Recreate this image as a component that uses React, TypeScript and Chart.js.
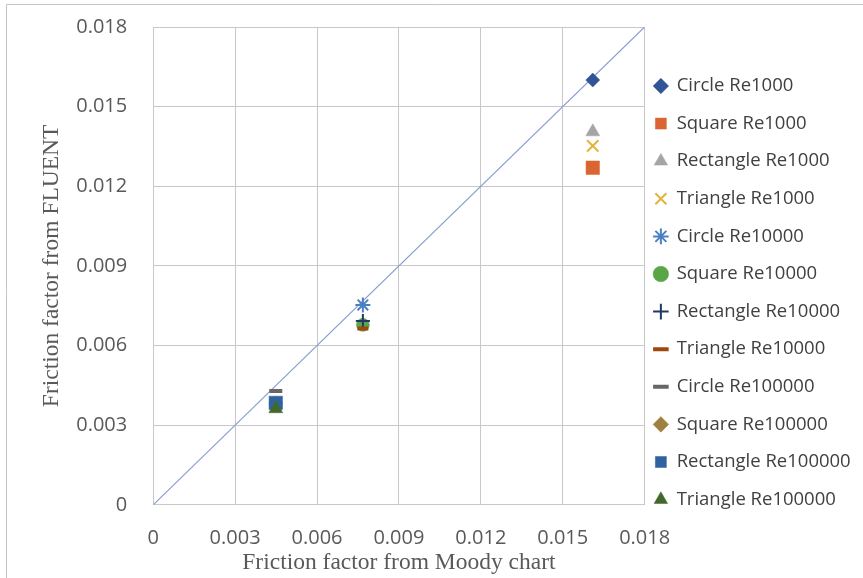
import { useEffect, useRef } from 'react';
import { Chart, registerables } from 'chart.js';

Chart.register(...registerables);

// Series shown in the legend, one per duct shape and Reynolds number
const seriesNames = [
  'Circle Re1000',
  'Square Re1000',
  'Rectangle Re1000',
  'Triangle Re1000',
  'Circle Re10000',
  'Square Re10000',
  'Rectangle Re10000',
  'Triangle Re10000',
  'Circle Re100000',
  'Square Re100000',
  'Rectangle Re100000',
  'Triangle Re100000',
];

// Friction factor (x) and computed by FLUENT (y)
const moodyFactor = [
  0.0161, 0.0161, 0.0161, 0.0161,
  0.00768, 0.00768, 0.00768, 0.00768,
  0.00449, 0.00449, 0.00449, 0.00449,
];
const fluentFactor = [
  0.016, 0.0127, 0.01405, 0.01352,
  0.00753, 0.00678, 0.00692, 0.00664,
  0.00429, 0.00383, 0.00384, 0.00362,
];

// Marker look of each series
const markerStyles = [
  'rectRot', 'rect', 'triangle', 'crossRot',
  'star', 'circle', 'cross', 'line',
  'line', 'rectRot', 'rect', 'triangle',
];
const markerRadii = [7, 9.5, 8, 8, 7.5, 6.5, 7, 5.5, 6.5, 7, 9.5, 8];
const markerColors = [
  '#2F5597', '#DA6530', '#A5A5A5', '#E3B33C',
  '#4A80C2', '#5AA545', '#1F3864', '#9E480E',
  '#666666', '#A08040', '#2E62A0', '#43682B',
];

// Line of perfect agreement
const agreementLine = [0, 0.018];

const xTickLabels = ['0', '0.003', '0.006', '0.009', '0.012', '0.015', '0.018'];
const yTickLabels = ['0', '0.003', '0.006', '0.009', '0.012', '0.015', '0.018'];

const xTitle = 'Friction factor from Moody chart';
const yTitle = 'Friction factor from FLUENT';

const strokeOnly = new Set(['crossRot', 'star', 'cross', 'line']);
const gridColor = '#c8c8c8';

const framePlugin = {
  id: 'pageFrame',
  beforeDraw(chart: Chart) {
    const { ctx, width, height } = chart;
    ctx.save();
    ctx.fillStyle = '#ffffff';
    ctx.fillRect(0, 0, width, height);
    ctx.strokeStyle = '#c4c4c4';
    ctx.lineWidth = 1;
    ctx.beginPath();
    ctx.moveTo(6.5, height);
    ctx.lineTo(6.5, 4.5);
    ctx.lineTo(width, 4.5);
    ctx.stroke();
    ctx.restore();
  },
};

export default function App() {
  const canvasRef = useRef<HTMLCanvasElement | null>(null);

  useEffect(() => {
    if (!canvasRef.current) return;

    const pointSets = seriesNames.map((name, i) => {
      const style = markerStyles[i];
      const lineLike = strokeOnly.has(style);
      return {
        label: name,
        data: [{ x: moodyFactor[i], y: fluentFactor[i] }],
        pointStyle: style,
        pointRadius: markerRadii[i],
        pointHoverRadius: markerRadii[i],
        backgroundColor: markerColors[i],
        borderColor: markerColors[i],
        borderWidth: style === 'line' ? 4 : lineLike ? 2 : 0.5,
        order: 20 - i,
      };
    });

    const diagonal = {
      label: 'agreement',
      data: agreementLine.map((v) => ({ x: v, y: v })),
      showLine: true,
      pointRadius: 0,
      borderColor: '#8A9ED2',
      backgroundColor: '#8A9ED2',
      borderWidth: 1.2,
      order: 100,
    };

    const xTickFont = { family: 'Open Sans', size: 20 };
    // single-line labels: a tight line height keeps the top overflow small
    const yTickFont = { family: 'Open Sans', size: 20, lineHeight: 0.1 };
    const titleFont = { family: 'Liberation Serif', size: 23.5 };

    const chart = new Chart(canvasRef.current, {
      type: 'scatter',
      data: { datasets: [...pointSets, diagonal] as any },
      plugins: [framePlugin],
      options: {
        animation: false,
        responsive: false,
        layout: { padding: { left: 0, top: 16, right: 3.5, bottom: 0 } },
        plugins: {
          tooltip: { enabled: false },
          legend: {
            position: 'right',
            align: 'start',
            title: {
              display: true,
              text: '',
              font: { size: 10, lineHeight: 1 },
              padding: { top: 41, bottom: 0 },
            },
            labels: {
              usePointStyle: true,
              boxWidth: 13,
              boxHeight: 11,
              padding: 9.75,
              color: '#404040',
              font: { family: 'Open Sans', size: 18.5, lineHeight: 27.85 / 18.5 },
              generateLabels: (c: Chart) =>
                Chart.defaults.plugins.legend.labels
                  .generateLabels(c)
                  .map((item: any) => ({ ...item, text: [item.text] })),
              filter: (item: any) => item.datasetIndex < seriesNames.length,
              sort: (a: any, b: any) => a.datasetIndex - b.datasetIndex,
            },
          },
        },
        scales: {
          x: {
            type: 'linear',
            min: 0,
            max: 0.018,
            grid: { color: gridColor, drawTicks: false },
            border: { color: gridColor },
            ticks: {
              stepSize: 0.003,
              padding: 21,
              color: '#595959',
              font: xTickFont,
              maxRotation: 0,
              callback: (_v: any, i: number) => xTickLabels[i],
            },
            title: {
              display: true,
              text: xTitle,
              color: '#595959',
              font: titleFont,
              padding: { top: -22, bottom: 1 },
            },
          },
          y: {
            type: 'linear',
            min: 0,
            max: 0.018,
            grid: { color: gridColor, drawTicks: false },
            border: { color: gridColor },
            ticks: {
              stepSize: 0.003,
              padding: 26,
              color: '#595959',
              font: yTickFont,
              callback: (_v: any, i: number) => yTickLabels[i],
            },
            title: {
              display: true,
              text: yTitle,
              color: '#595959',
              font: titleFont,
              padding: { top: 38, bottom: -16 },
            },
          },
        },
      } as any,
    });

    return () => chart.destroy();
  }, []);

  return (
    <div style={{ position: 'fixed', left: 0, top: 0, width: 863, height: 578, background: '#fff' }}>
      <canvas ref={canvasRef} width={863} height={578} style={{ display: 'block' }} />
    </div>
  );
}
